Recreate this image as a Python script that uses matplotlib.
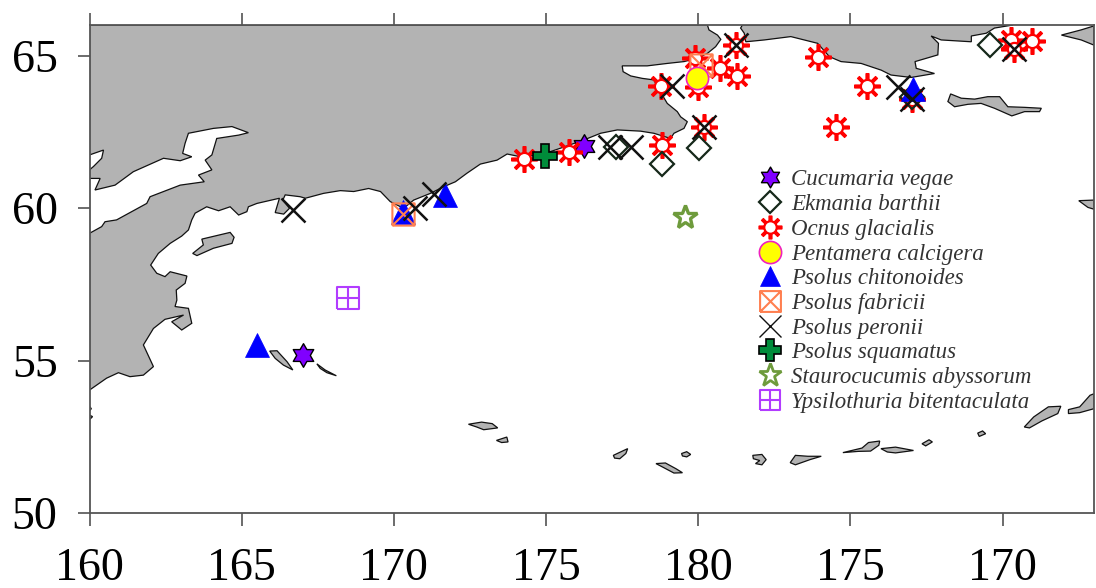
import matplotlib
matplotlib.use("Agg")
import matplotlib.pyplot as plt
from matplotlib.lines import Line2D
from matplotlib.patches import Polygon
from matplotlib.path import Path

plt.rcParams["font.family"] = ["Liberation Serif", "DejaVu Serif"]

# station positions, longitude runs on past 180 (185 is drawn as 175 W)
cucumaria_lon = [167.02, 176.23]
cucumaria_lat = [55.18, 62.03]
ekmania_lon = [178.8, 180.02, 177.3, 189.59, 187.02]
ekmania_lat = [61.44, 61.97, 62.0, 65.34, 63.64]
ocnus_lon = [174.29, 175.74, 178.8, 178.77, 179.88, 180.0, 180.7, 181.27, 181.23, 180.18,
             183.93, 185.54, 184.52, 187.02, 190.28, 190.97, 190.37]
ocnus_lat = [61.6, 61.84, 62.07, 64.0, 64.92, 63.97, 64.59, 64.33, 65.34, 62.66,
             64.95, 64.0, 62.66, 63.57, 65.5, 65.49, 65.21]
pentamera_lon = [179.95]
pentamera_lat = [64.26]
chitonoides_lon = [165.5, 170.3, 171.69, 187.06]
chitonoides_lat = [55.5, 59.87, 60.43, 63.9]
fabricii_lon = [170.3, 180.08]
fabricii_lat = [59.8, 64.69]
peronii_lon = [166.69, 170.7, 171.33, 177.09, 177.78, 179.12, 181.23, 180.18, 186.55, 190.37, 187.02]
peronii_lat = [59.93, 60.0, 60.46, 62.0, 62.0, 64.0, 65.34, 62.66, 63.96, 65.2, 63.57]
squamatus_lon = [174.95]
squamatus_lat = [61.7]
stauro_lon = [179.55]
stauro_lat = [59.7]
ypsilo_lon = [168.5]
ypsilo_lat = [57.05]

species = ["Cucumaria vegae", "Ekmania barthii", "Ocnus glacialis", "Pentamera calcigera",
           "Psolus chitonoides", "Psolus fabricii", "Psolus peronii", "Psolus squamatus",
           "Staurocucumis abyssorum", "Ypsilothuria bitentaculata"]

x_ticks = [160, 165, 170, 175, 180, 185, 190]
x_labels = ["160", "165", "170", "175", "180", "175", "170"]
y_ticks = [50, 55, 60, 65]

# coastlines as (lon, lat)
mainland = [(160, 66), (180.3, 66), (180.35, 65.84), (180.63, 65.67), (180.74, 65.53), (180.57, 65.29),
            (180.3, 65.07), (179.97, 64.91), (179.53, 64.8), (178.98, 64.74), (178.32, 64.66), (177.5, 64.66),
            (177.53, 64.47), (177.78, 64.33), (178.16, 64.25), (178.54, 64.2), (178.82, 63.7), (178.98, 63.43),
            (179.31, 63.16), (179.42, 62.99), (179.64, 62.83), (179.53, 62.61), (179.2, 62.45), (179.09, 62.28),
            (178.54, 62.45), (178.1, 62.52), (177.34, 62.56), (176.79, 62.45), (176.24, 62.23), (175.47, 61.96),
            (174.82, 61.74), (174.16, 61.68), (173.72, 61.77), (173.39, 61.57), (172.84, 61.44), (172.4, 61.14),
            (172.02, 60.86), (171.64, 60.7), (171.2, 60.48), (170.65, 60.26), (170.32, 59.99), (169.88, 60.21),
            (169.56, 60.54), (169.17, 60.64), (168.68, 60.54), (168.24, 60.57), (167.69, 60.48), (167.09, 60.32),
            (166.92, 60.37), (166.43, 60.43), (166.35, 60.26), (166.57, 59.99), (166.38, 59.8), (166.1, 59.85),
            (166.24, 60.32), (165.5, 60.15), (165.22, 60.04), (165.17, 59.88), (164.9, 59.77), (164.62, 60.04),
            (164.24, 59.91), (163.85, 60.04), (163.47, 59.83), (163.36, 59.61), (163.25, 59.28), (163.03, 59.08),
            (162.65, 58.84), (162.26, 58.51), (162.01, 58.13), (162.21, 57.86), (162.48, 57.75), (162.65, 57.91),
            (163.2, 57.77), (163.14, 57.53), (162.85, 57.31), (162.87, 56.98), (162.81, 56.77), (163.25, 56.71),
            (163.36, 56.22), (163.03, 56.0), (162.7, 56.27), (163.09, 56.49), (162.48, 56.35), (162.1, 56.05),
            (161.77, 55.51), (162.1, 54.8), (161.77, 54.52), (161.33, 54.47), (160.95, 54.6), (160.56, 54.42),
            (160, 54.03), (160, 59.17), (160.4, 59.39), (160.51, 59.55), (160.89, 59.61), (161.88, 60.15),
            (161.99, 60.37), (162.98, 60.75), (163.77, 60.86), (163.58, 61.08), (164.02, 61.25), (163.8, 61.57),
            (164.02, 61.74), (164.18, 62.28), (164.9, 62.39), (165.22, 62.47), (164.68, 62.67), (164.07, 62.61),
            (163.25, 62.45), (163.14, 62.12), (163.06, 61.79), (163.36, 61.68), (162.98, 61.55), (162.43, 61.63),
            (161.44, 61.19), (160.84, 60.75), (160.18, 60.59), (160.35, 60.97), (160, 60.97), (160, 61.25),
            (160.13, 61.36), (160.4, 61.63), (160.46, 61.9), (160, 61.74)]
chukotka_east = [(181.45, 66), (181.39, 65.9), (181.51, 65.73), (181.56, 65.45), (182.17, 65.51), (183.04, 65.62),
                 (183.92, 65.4), (184.31, 64.96), (184.69, 64.8), (185.35, 64.74), (186.01, 64.52), (186.33, 64.36),
                 (186.99, 64.28), (187.76, 64.41), (187.16, 64.58), (187.12, 64.8), (187.87, 65.02), (187.89, 65.4),
                 (187.65, 65.64), (187.98, 65.51), (188.97, 65.45), (188.97, 65.64), (189.46, 65.73), (189.73, 65.9),
                 (190.34, 66)]
islands = [
    [(163.69, 58.98), (164.62, 59.2), (164.75, 59.04), (164.68, 58.84), (164.07, 58.68), (163.53, 58.44),
     (163.39, 58.51), (163.74, 58.79)],
    [(165.92, 55.31), (166.16, 55.32), (166.49, 54.96), (166.68, 54.69), (166.37, 54.85), (166.1, 55.07)],
    [(167.47, 54.89), (167.74, 54.69), (168.11, 54.5), (167.8, 54.6), (167.58, 54.74)],
    [(160, 53.21), (160.1, 53.16), (160.01, 53.07)],
    [(160, 53.5), (160.06, 53.42), (160, 53.35)],
    [(172.45, 52.91), (172.88, 52.98), (173.23, 52.93), (173.41, 52.79), (172.95, 52.73), (172.72, 52.82)],
    [(173.37, 52.38), (173.71, 52.49), (173.75, 52.33), (173.54, 52.31)],
    [(177.21, 51.89), (177.55, 52.05), (177.68, 52.11), (177.62, 51.95), (177.42, 51.78), (177.25, 51.8)],
    [(178.61, 51.62), (178.92, 51.64), (179.27, 51.45), (179.48, 51.32), (179.2, 51.31), (178.86, 51.49)],
    [(179.45, 51.95), (179.62, 52.01), (179.75, 51.92), (179.62, 51.84), (179.48, 51.87)],
    [(181.79, 51.89), (182.09, 51.92), (182.23, 51.75), (182.09, 51.58), (181.88, 51.62), (182.02, 51.72),
     (181.81, 51.78)],
    [(183.02, 51.65), (183.19, 51.89), (183.6, 51.86), (184.04, 51.86), (183.67, 51.75), (183.19, 51.58)],
    [(184.75, 51.98), (185.38, 52.13), (185.59, 52.31), (185.96, 52.36), (185.93, 52.22), (185.66, 52.03),
     (185.25, 52.02)],
    [(186.0, 52.11), (186.48, 52.16), (187.07, 52.05), (186.48, 51.97), (186.21, 52.0)],
    [(187.35, 52.27), (187.58, 52.4), (187.69, 52.33), (187.47, 52.2)],
    [(189.18, 52.62), (189.34, 52.69), (189.44, 52.6), (189.23, 52.51)],
    [(190.71, 52.82), (191.02, 53.15), (191.5, 53.48), (191.91, 53.5), (191.81, 53.26), (191.29, 53.02),
     (190.88, 52.79)],
    [(192.16, 53.39), (192.53, 53.48), (192.87, 53.86), (193, 53.91), (193, 53.42), (192.53, 53.29), (192.16, 53.26)],
    [(188.29, 63.74), (188.64, 63.6), (189.08, 63.57), (189.51, 63.65), (189.9, 63.65), (190.17, 63.32),
     (190.72, 63.3), (191.27, 63.27), (191.21, 63.16), (190.72, 63.16), (190.3, 63.02), (189.73, 63.27),
     (189.29, 63.43), (188.86, 63.4), (188.42, 63.32), (188.2, 63.49)],
    [(191.93, 65.67), (192.58, 65.84), (193, 65.97), (193, 65.34), (192.58, 65.51)],
    [(192.5, 60.24), (193, 60.26), (193, 59.96), (192.8, 60.02)],
]

# square with an x or a + inside, six pointed star
box_x = Path([(-1, -1), (1, -1), (1, 1), (-1, 1), (-1, -1), (-1, -1), (1, 1), (-1, 1), (1, -1)],
             [1, 2, 2, 2, 2, 1, 2, 1, 2])
box_plus = Path([(-1, -1), (1, -1), (1, 1), (-1, 1), (-1, -1), (0, -1), (0, 1), (-1, 0), (1, 0)],
                [1, 2, 2, 2, 2, 1, 2, 1, 2])
star6 = Path.unit_regular_star(6, innerCircle=0.577)

cucumaria_style = dict(marker=star6, ms=17, mfc="#8000ff", mec="black", mew=1)
ekmania_style = dict(marker="D", ms=12.5, mfc="none", mec="#16281a", mew=1.6)
spoke_style = dict(marker=(8, 2, 0), ms=19, mec="red", mew=2.6)
ring_style = dict(marker="o", ms=9.5, mfc="white", mec="red", mew=1.6)
pentamera_style = dict(marker="o", ms=16, mfc="#ffff00", mec="#f020c0", mew=1.2)
chitonoides_style = dict(marker="^", ms=17, mfc="#0000ff", mec="#0000ff", mew=0.5)
fabricii_style = dict(marker=box_x, ms=16, mfc="none", mec="#ff7f50", mew=1.5)
peronii_style = dict(marker="x", ms=17, mfc="none", mec="#111111", mew=1.8)
squamatus_style = dict(marker="P", ms=17, mfc="#008c3a", mec="black", mew=1.2)
stauro_style = dict(marker="*", ms=18, mfc="none", mec="#6e9b3c", mew=2.4)
ypsilo_style = dict(marker=box_plus, ms=16, mfc="none", mec="#b23cff", mew=1.5)

fig = plt.figure(figsize=(10.96, 5.88), dpi=100)
ax = fig.add_axes([89.5 / 1096, 75 / 588, 1004.5 / 1096, 488 / 588])

for shape in [mainland, chukotka_east] + islands:
    ax.add_patch(Polygon(shape, closed=True, fc="#b3b3b3", ec="#111111", lw=0.9, zorder=1))

ax.plot(cucumaria_lon, cucumaria_lat, ls="none", zorder=3, **cucumaria_style)
ax.plot(ocnus_lon, ocnus_lat, ls="none", zorder=3, **spoke_style)
ax.plot(ocnus_lon, ocnus_lat, ls="none", zorder=3, **ring_style)
ax.plot(ekmania_lon, ekmania_lat, ls="none", zorder=3, **ekmania_style)
ax.plot(chitonoides_lon, chitonoides_lat, ls="none", zorder=4, **chitonoides_style)
ax.plot(fabricii_lon, fabricii_lat, ls="none", zorder=4, **fabricii_style)
ax.plot(pentamera_lon, pentamera_lat, ls="none", zorder=4, **pentamera_style)
ax.plot(peronii_lon, peronii_lat, ls="none", zorder=4, **peronii_style)
ax.plot(squamatus_lon, squamatus_lat, ls="none", zorder=4, **squamatus_style)
ax.plot(stauro_lon, stauro_lat, ls="none", zorder=4, **stauro_style)
ax.plot(ypsilo_lon, ypsilo_lat, ls="none", zorder=4, **ypsilo_style)

ax.set_xlim(160, 193)
ax.set_ylim(50, 66)
ax.set_xticks(x_ticks)
ax.set_xticklabels(x_labels)
ax.set_yticks(y_ticks)
ax.tick_params(axis="x", top=True, length=9, width=1.1, color="#444444", labelsize=33, pad=16)
ax.tick_params(axis="y", length=9, width=1.1, color="#444444", labelsize=33, pad=14)
for side in ax.spines:
    ax.spines[side].set_color("#555555")
    ax.spines[side].set_linewidth(1.3)

# legend, marker sizes close to the map ones, peronii drawn thin
def handle(style, **extra):
    merged = dict(style)
    merged.update(extra)
    return Line2D([], [], ls="none", **merged)

handles = [handle(cucumaria_style, ms=15),
           handle(ekmania_style, ms=11),
           (handle(spoke_style, ms=17), handle(ring_style, ms=9)),
           handle(pentamera_style),
           handle(chitonoides_style, ms=15),
           handle(fabricii_style, ms=15),
           handle(peronii_style, ms=16, mew=1),
           handle(squamatus_style, ms=16),
           handle(stauro_style, ms=17, mew=2),
           handle(ypsilo_style, ms=15)]
leg = ax.legend(handles, species, loc="upper left", bbox_to_anchor=(0.663, 0.704), frameon=False,
                prop=dict(family="Liberation Serif", style="italic", size=16.5),
                borderpad=0, borderaxespad=0, labelspacing=0.16, handlelength=1.23, handletextpad=0.31)
for txt in leg.get_texts():
    txt.set_color("#333333")

fig.savefig("out.png", dpi=100)
